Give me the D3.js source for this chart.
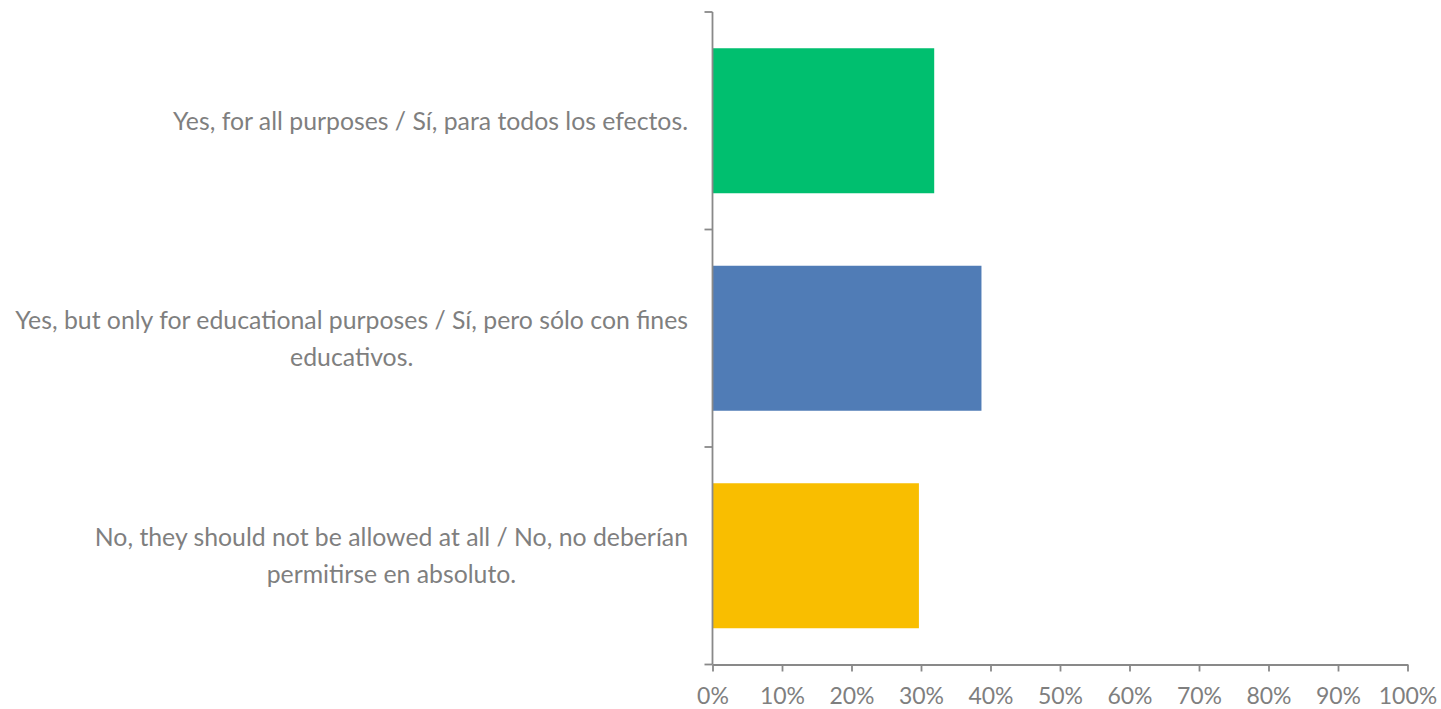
<!DOCTYPE html>
<html>
<head>
  <meta charset="UTF-8">
	<style>
	body { margin: 0; background: #fff; }
	svg { display: block; }
	.lbl, .tick text {
		font-family: Lato, 'Open Sans', sans-serif;
		fill: #7f7f7f;
	}
	.axis path, .axis line, .yTick {
		stroke: #898989;
		stroke-width: 1.8px;
	}
	</style>
</head>
<body>
<script src="https://d3js.org/d3.v7.min.js"></script>
<script>
	let width = 1441,
		height = 709;

	// data
	let categories = [
		"Yes, for all purposes / Sí, para todos los efectos.",
		"Yes, but only for educational purposes / Sí, pero sólo con fines educativos.",
		"No, they should not be allowed at all / No, no deberían permitirse en absoluto."
	];
	// how the labels wrap in the original
	let labelLines = [
		["Yes, for all purposes / Sí, para todos los efectos."],
		["Yes, but only for educational purposes / Sí, pero sólo con fines", "educativos."],
		["No, they should not be allowed at all / No, no deberían", "permitirse en absoluto."]
	];
	let values = [0.319, 0.387, 0.297];
	let barColors = ["#00bf6f", "#507cb6", "#f9be00"];
	let tickValues = [0, 0.1, 0.2, 0.3, 0.4, 0.5, 0.6, 0.7, 0.8, 0.9, 1];

	let fontSize = 24.8,
		tickFont = 23,
		lineH = 36.8;

	let svg = d3.select("body").append("svg")
		.attr("width", width)
		.attr("height", height);

	let x = d3.scaleLinear()
		.domain([0, 1])
		.range([712.5, 1407.5]);

	let y = d3.scaleBand()
		.domain(categories)
		.range([12, 664.5])
		.paddingInner(1/3)
		.paddingOuter(1/6);

	// bars
	svg.append("g")
		.selectAll("rect")
		.data(values)
		.join("rect")
		.attr("x", x(0))
		.attr("y", (d, i) => y(categories[i]))
		.attr("width", d => x(d) - x(0))
		.attr("height", y.bandwidth())
		.attr("fill", (d, i) => barColors[i]);

	// vertical axis line with ticks on category boundaries
	let step = y.step();
	let bounds = d3.range(categories.length + 1).map(i => y.range()[0] + i * step);
	svg.append("line")
		.attr("class", "yTick")
		.attr("x1", x(0)).attr("x2", x(0))
		.attr("y1", bounds[0]).attr("y2", bounds[bounds.length - 1]);
	svg.append("g")
		.selectAll("line")
		.data(bounds)
		.join("line")
		.attr("class", "yTick")
		.attr("x1", x(0) - 8).attr("x2", x(0))
		.attr("y1", d => d).attr("y2", d => d);

	// x axis
	let xAxis = svg.append("g")
		.attr("class", "axis")
		.attr("transform", "translate(0," + bounds[bounds.length - 1] + ")")
		.call(d3.axisBottom(x)
			.tickValues(tickValues)
			.tickSize(7)
			.tickSizeOuter(0)
			.tickFormat(d3.format(".0%")));
	xAxis.selectAll(".tick text")
		.attr("font-size", tickFont)
		.attr("dy", null)
		.attr("y", 39.5);

	// category labels, lines centred, block right-aligned to 688
	let labelRight = 688;
	let lbl = svg.append("g")
		.selectAll("text")
		.data(labelLines)
		.join("text")
		.attr("class", "lbl")
		.attr("font-size", fontSize)
		.attr("text-anchor", "middle");

	lbl.each(function(lines, i) {
		let t = d3.select(this);
		let cy = y(categories[i]) + y.bandwidth() / 2;
		lines.forEach((s, k) => {
			t.append("tspan")
				.attr("y", cy + (k - (lines.length - 1) / 2) * lineH + 9)
				.text(s);
		});
		// width of widest line sets the centre
		let w = d3.max(t.selectAll("tspan").nodes(), n => n.getComputedTextLength());
		t.selectAll("tspan").attr("x", labelRight - w / 2);
	});
</script>
</body>
</html>
